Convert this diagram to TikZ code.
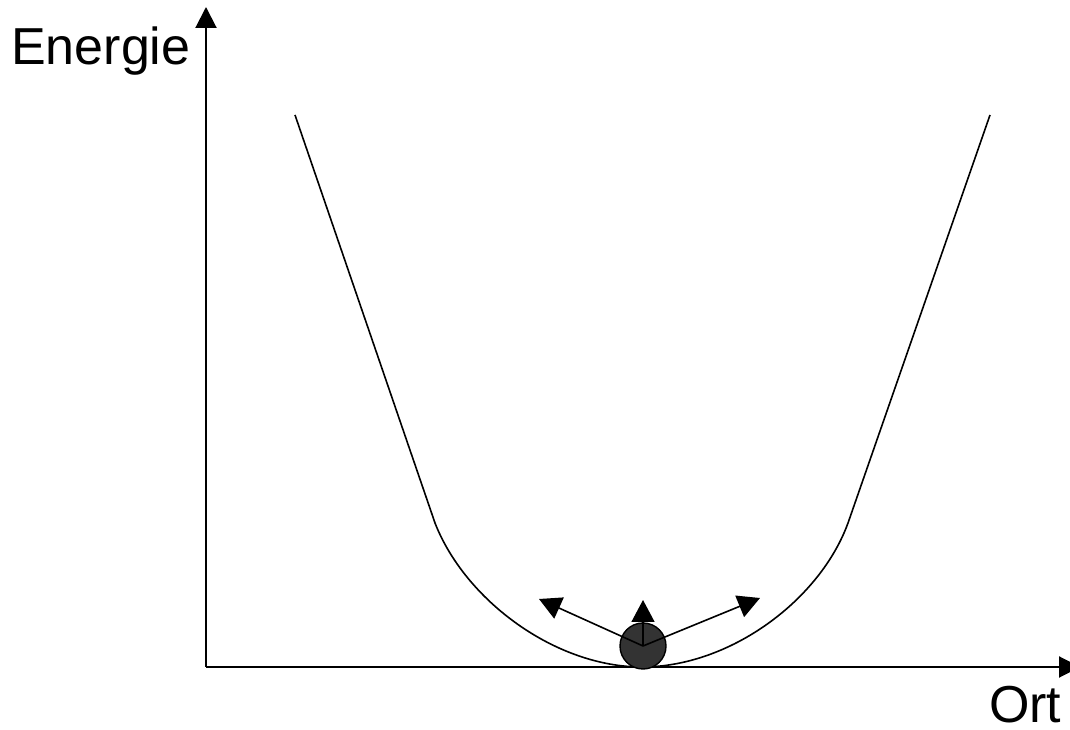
\documentclass[tikz,border=0pt]{standalone}
\usepackage{fontspec}
\setmainfont{Liberation Sans}
\usepackage{tikz}
\usetikzlibrary{arrows.meta, positioning}
\definecolor{balldark}{RGB}{51,51,51}

\begin{document}
\begin{tikzpicture}[x=1pt, y=1pt, >={Triangle[length=21pt, width=21pt]},
            axis/.style={line width=2pt, ->},
            curve/.style={line width=1.6pt},
            kick/.style={line width=1.6pt, ->, >={Triangle[length=22pt, width=23pt]}},
            label/.style={font=\fontsize{52}{58}\selectfont, inner sep=0pt}]
          \useasboundingbox (0,0) rectangle (1070,730);
          % axes
          \coordinate (origin) at (206,63);
          \coordinate (ytop) at (206,723);
          \coordinate (xend) at (1080,63);
          \draw[axis] (origin) -- (ytop);
          \draw[axis] (origin) -- (xend);
          \node[label, anchor=base west] (energie) at (11,665) {Energie};
          \node[label, anchor=base west] (ort) at (989,7) {Ort};
          % potential well
          \coordinate (ltop) at (295,615);
          \coordinate (lbot) at (435,207);
          \coordinate (bottom) at (642,63);
          \coordinate (rbot) at (848,207);
          \coordinate (rtop) at (990,615);
          \draw[curve] (ltop) -- (lbot)
                .. controls (465,130) and (555,63) .. (bottom)
                .. controls (730,63) and (820,130) .. (rbot) -- (rtop);
          % ball
          \node[circle, draw, line width=1.4pt, fill=balldark, minimum size=46pt,
                inner sep=0pt] (ball) at (643,84) {};
          \coordinate (up) at (643,130);
          \coordinate (left) at (539,131);
          \coordinate (right) at (760,132);
          \draw[kick] (ball.center) -- (up);
          \draw[kick] (ball.center) -- (left);
          \draw[kick] (ball.center) -- (right);
        \end{tikzpicture}
\end{document}
